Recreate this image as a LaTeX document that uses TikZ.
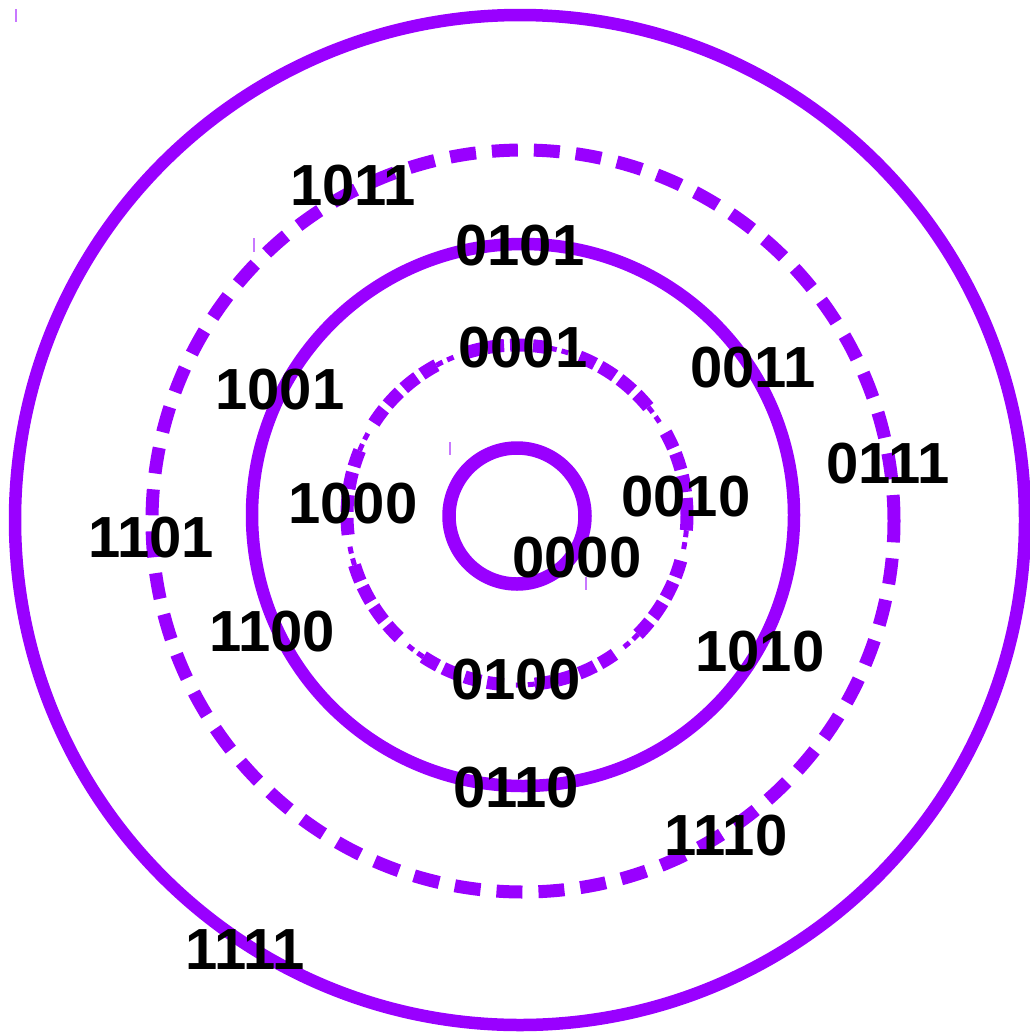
\documentclass[tikz,border=0pt]{standalone}
\usepackage{fontspec}
\setmainfont{Liberation Sans}
\definecolor{ringpurple}{RGB}{153,0,255}
\definecolor{tickpurple}{RGB}{200,120,255}
\begin{document}
\begin{tikzpicture}[x=1pt,y=-1pt,
  ring/.style={draw=ringpurple,line width=12.5pt},
  dashring/.style={draw=ringpurple,line width=13pt,dash pattern=on 26pt off 16pt},
  innerthick/.style={draw=ringpurple,line width=13pt,dash pattern=on 17pt off 6pt on 17pt off 6pt on 17pt off 6pt on 17pt off 31pt},
  innerthin/.style={draw=ringpurple,line width=5pt,dash pattern=on 7pt off 5pt on 7pt off 98pt,dash phase=-98pt},
  lab/.style={inner sep=0pt,font=\fontsize{58}{66}\selectfont\bfseries,text=black},
  tick/.style={draw=tickpurple,line width=1.5pt}]
\useasboundingbox (0,0) rectangle (1030,1034);
% rings
\draw[ring] (520,520) circle[radius=505pt];
\draw[dashring] (523,521) circle[radius=371pt];
\draw[ring] (523,515) circle[radius=271pt];
\draw[innerthick] (517,515) circle[radius=170pt];
\draw[innerthin] (517,515) circle[radius=170pt];
\draw[ring,line width=13.5pt] (517,516) circle[radius=68pt];
% small ticks
\coordinate (t1a) at (16,9);   \coordinate (t1b) at (16,22);
\coordinate (t2a) at (254,238); \coordinate (t2b) at (254,252);
\coordinate (t3a) at (450,442); \coordinate (t3b) at (450,455);
\coordinate (t4a) at (586,577); \coordinate (t4b) at (586,590);
\draw[tick] (t1a) -- (t1b);
\draw[tick] (t2a) -- (t2b);
\draw[tick] (t3a) -- (t3b);
\draw[tick] (t4a) -- (t4b);
% labels
\node[lab] (n1011) at (353,186) {1011};
\node[lab] (n0101) at (520,246) {0101};
\node[lab] (n0001) at (523,348) {0001};
\node[lab] (n0011) at (753,368) {0011};
\node[lab] (n1001) at (280,390) {1001};
\node[lab] (n0111) at (888,464) {0111};
\node[lab] (n1000) at (353,504) {1000};
\node[lab] (n0010) at (686,497) {0010};
\node[lab] (n1101) at (151,538) {1101};
\node[lab] (n0000) at (577,558) {0000};
\node[lab] (n1100) at (272,632) {1100};
\node[lab] (n1010) at (760,652) {1010};
\node[lab] (n0100) at (516,680) {0100};
\node[lab] (n0110) at (516,788) {0110};
\node[lab] (n1110) at (726,836) {1110};
\node[lab] (n1111) at (245,950) {1111};
\end{tikzpicture}
\end{document}
